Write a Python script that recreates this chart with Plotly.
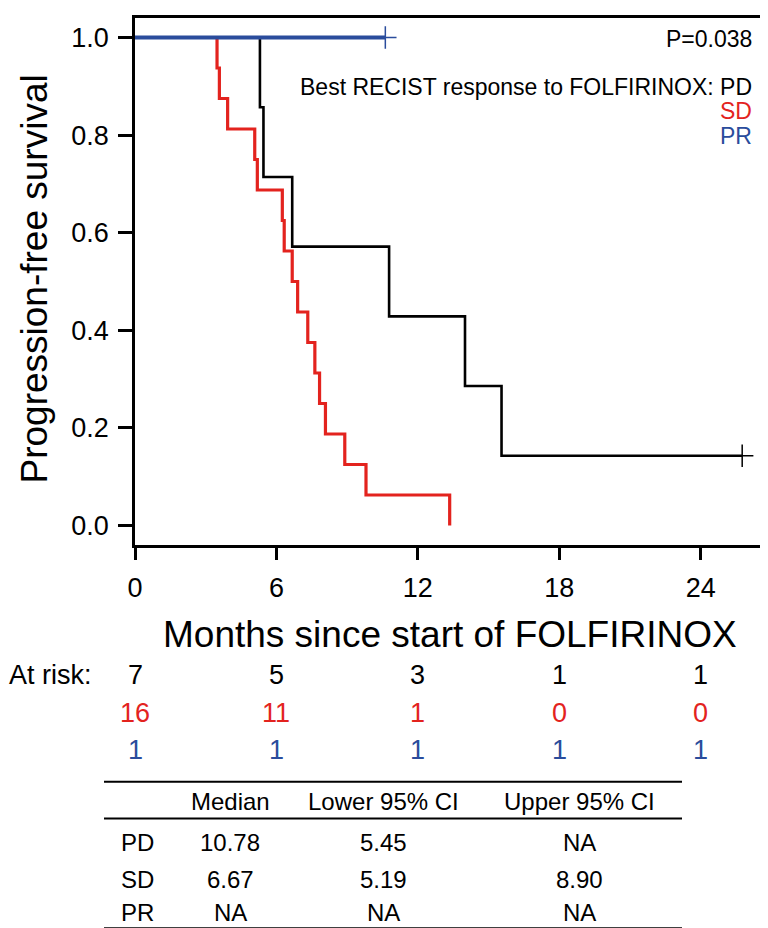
import plotly.graph_objects as go

# ---- data ----
pd_times = [5.30, 5.45, 6.67, 10.78, 14.00, 15.55, 25.76]
pd_event = [1, 1, 1, 1, 1, 1, 0]
sd_times = [3.48, 3.58, 3.93, 5.08, 5.19, 6.25, 6.33, 6.67, 6.90, 7.33, 7.63, 7.83, 8.08, 8.90, 9.80, 13.35]
sd_event = [1] * 16
pr_times = [10.62]
pr_event = [0]

groups = ["PD", "SD", "PR"]
colors = {"PD": "#000000", "SD": "#E3231E", "PR": "#2A4C9C"}
widths = {"PD": 2.6, "SD": 3.2, "PR": 4.0}

x_ticks = [0, 6, 12, 18, 24]
y_ticks = [0.0, 0.2, 0.4, 0.6, 0.8, 1.0]
at_risk = {"PD": [7, 5, 3, 1, 1], "SD": [16, 11, 1, 0, 0], "PR": [1, 1, 1, 1, 1]}

table_cols = ["Median", "Lower 95% CI", "Upper 95% CI"]
table_rows = ["PD", "SD", "PR"]
table_vals = [["10.78", "5.45", "NA"], ["6.67", "5.19", "8.90"], ["NA", "NA", "NA"]]

p_value_text = "P=0.038"
legend_title = "Best RECIST response to FOLFIRINOX: "


def km(times, events):
    order = sorted(range(len(times)), key=lambda i: times[i])
    n = len(times)
    s = 1.0
    xs, ys, cx, cy = [0.0], [1.0], [], []
    at = n
    for i in order:
        t, e = times[i], events[i]
        if e:
            s = s * (at - 1) / at
            xs.append(t); ys.append(s)
        else:
            xs.append(t); ys.append(s)
            cx.append(t); cy.append(s)
        at -= 1
    return xs, ys, cx, cy


data = {"PD": (pd_times, pd_event), "SD": (sd_times, sd_event), "PR": (pr_times, pr_event)}

fig = go.Figure()
for g in ["PD", "SD", "PR"]:
    xs, ys, cx, cy = km(*data[g])
    fig.add_trace(go.Scatter(x=xs, y=ys, mode="lines", line=dict(color=colors[g], width=widths[g], shape="hv"),
                             showlegend=False, hoverinfo="skip"))
    if cx:
        fig.add_trace(go.Scatter(x=cx, y=cy, mode="markers",
                                 marker=dict(symbol="cross-thin", size=16, line=dict(color=colors[g], width=1.5)),
                                 showlegend=False, hoverinfo="skip"))

# layout geometry (pixels)
L, R, T, B = 127, 10, 7, 391
W, H = 768, 928
PW, PH = W - L - R, H - T - B
FONT = "Liberation Sans, Arial, Helvetica, sans-serif"


def px(xp):
    return (xp - L) / PW


def py(yp):
    return (H - B - yp) / PH


ann = []
LEG = 23
ann.append(dict(x=px(746), y=py(28), xref="paper", yref="paper", text=p_value_text, showarrow=False,
                xanchor="right", yanchor="middle", font=dict(size=LEG, color="#000")))
ann.append(dict(x=px(746), y=py(76.5), xref="paper", yref="paper", text=legend_title + "PD", showarrow=False,
                xanchor="right", yanchor="middle", font=dict(size=LEG, color=colors["PD"])))
ann.append(dict(x=px(746), y=py(101), xref="paper", yref="paper", text="SD", showarrow=False,
                xanchor="right", yanchor="middle", font=dict(size=LEG, color=colors["SD"])))
ann.append(dict(x=px(746), y=py(125.5), xref="paper", yref="paper", text="PR", showarrow=False,
                xanchor="right", yanchor="middle", font=dict(size=LEG, color=colors["PR"])))

# axis titles
TT = 37
ann.append(dict(x=px(442), y=py(627), xref="paper", yref="paper", text="Months since start of FOLFIRINOX",
                showarrow=False, xanchor="center", yanchor="middle", font=dict(size=TT, color="#000")))
ann.append(dict(x=px(27), y=py(270), xref="paper", yref="paper", text="Progression-free survival",
                showarrow=False, xanchor="center", yanchor="middle", textangle=-90, font=dict(size=TT, color="#000")))

# at risk
AR = 27
ann.append(dict(x=px(-1), y=py(668), xref="paper", yref="paper", text="At risk:", showarrow=False,
                xanchor="left", yanchor="middle", font=dict(size=AR, color="#000")))
row_y = {"PD": 668, "SD": 706, "PR": 743}
for g in groups:
    for xt, v in zip(x_ticks, at_risk[g]):
        ann.append(dict(x=xt, y=py(row_y[g]), xref="x", yref="paper", text=str(v), showarrow=False,
                        xanchor="center", yanchor="middle", font=dict(size=AR, color=colors[g])))

# table
TF = 24
col_x = [222, 375, 571]
ann_font = dict(size=TF, color="#000")
for cx_, c in zip(col_x, table_cols):
    ann.append(dict(x=px(cx_), y=py(795), xref="paper", yref="paper", text=c, showarrow=False,
                    xanchor="center", yanchor="middle", font=ann_font))
row_ty = [836, 873, 907]
for ry, rname, vals in zip(row_ty, table_rows, table_vals):
    ann.append(dict(x=px(111), y=py(ry), xref="paper", yref="paper", text=rname, showarrow=False,
                    xanchor="left", yanchor="middle", font=ann_font))
    for cx_, v in zip(col_x, vals):
        ann.append(dict(x=px(cx_), y=py(ry), xref="paper", yref="paper", text=v, showarrow=False,
                        xanchor="center", yanchor="middle", font=ann_font))

shapes = [
    dict(type="line", xref="paper", yref="paper", x0=px(96), x1=px(674), y0=py(775), y1=py(775),
         line=dict(color="#000", width=2)),
    dict(type="line", xref="paper", yref="paper", x0=px(96), x1=px(674), y0=py(812), y1=py(812),
         line=dict(color="#000", width=2)),
    dict(type="line", xref="paper", yref="paper", x0=px(96), x1=px(674), y0=py(923), y1=py(923),
         line=dict(color="#000", width=3)),
]

fig.update_layout(
    width=W, height=H,
    margin=dict(l=L, r=R, t=T, b=B, pad=0),
    paper_bgcolor="white", plot_bgcolor="white",
    font=dict(family=FONT, color="#000"),
    annotations=ann, shapes=shapes,
    xaxis=dict(range=[0, 26.77], tickvals=x_ticks, ticktext=[str(v) for v in x_ticks],
               showgrid=False, zeroline=False, showline=True, mirror=True, linecolor="#000", linewidth=2.5,
               ticks="outside", ticklen=12, tickwidth=2.5, tickcolor="#000", tickfont=dict(size=27),
               ticklabelstandoff=5, fixedrange=True),
    yaxis=dict(range=[-0.04, 1.04], tickvals=y_ticks, ticktext=["%.1f" % v for v in y_ticks],
               showgrid=False, zeroline=False, showline=True, mirror=True, linecolor="#000", linewidth=2.5,
               ticks="outside", ticklen=14, tickwidth=2.5, tickcolor="#000", tickfont=dict(size=27),
               ticklabelstandoff=4, fixedrange=True),
)

fig.write_html("out.html")
